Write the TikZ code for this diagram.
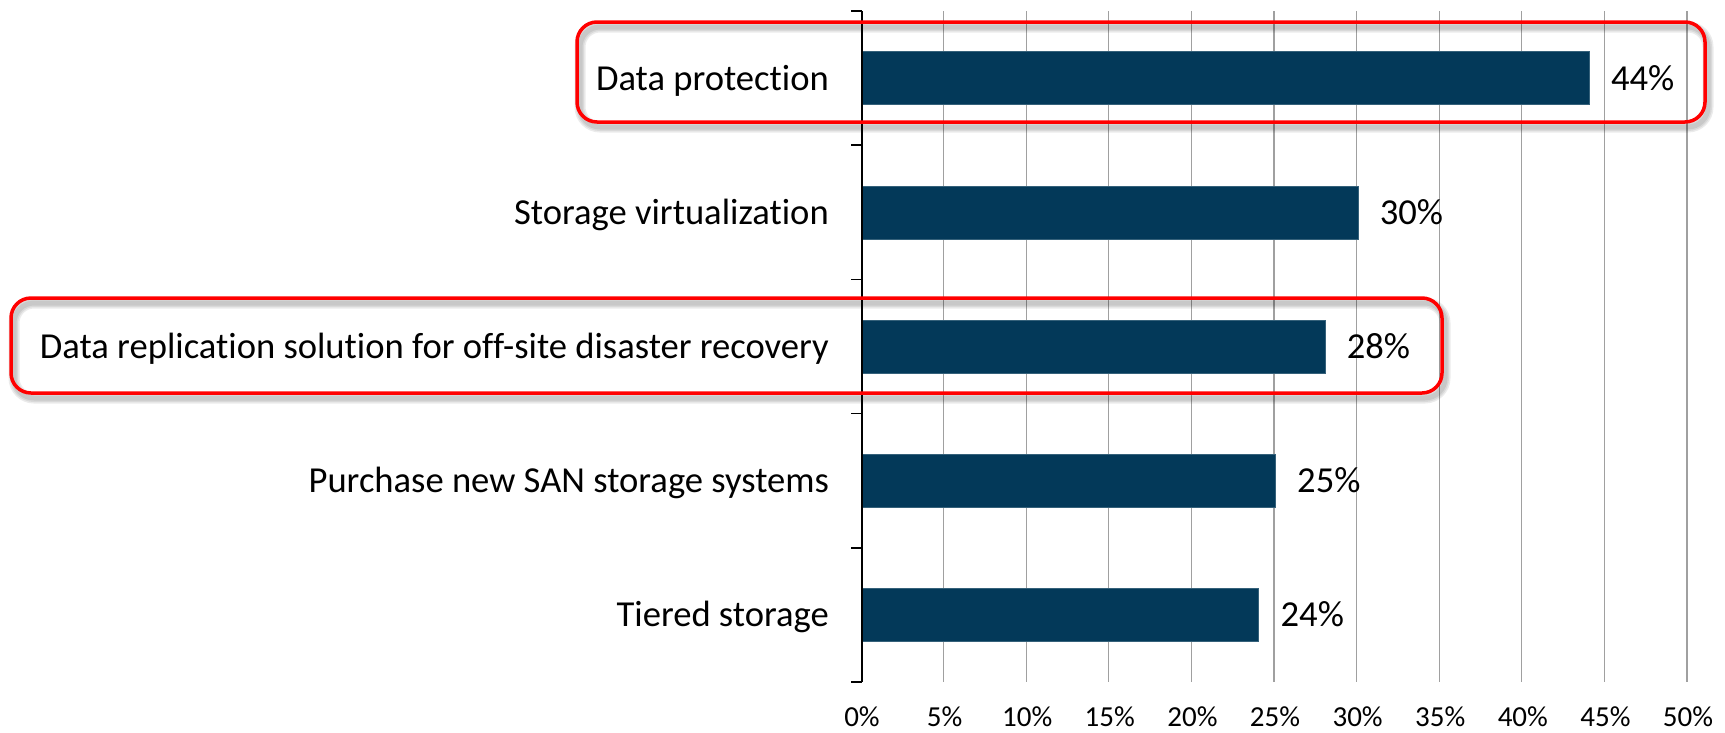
\documentclass[tikz,border=0pt]{standalone}
\usepackage{fontspec}
\setmainfont{Carlito}[Ligatures={NoCommon,NoContextual}]
\definecolor{barblue}{RGB}{3,57,89}
\definecolor{gridgray}{RGB}{160,160,160}
\definecolor{hlred}{RGB}{255,0,0}
\begin{document}
\begin{tikzpicture}[x=1pt,y=-1pt,
  gridline/.style={draw=gridgray,line width=1.3pt},
  axisline/.style={draw=black,line width=1.6pt},
  bar/.style={fill=barblue,draw=barblue!80!white,line width=0.6pt,rectangle,inner sep=0pt,minimum height=53pt,anchor=west},
  catlabel/.style={font=\fontsize{36.6}{40}\selectfont,inner sep=0pt,anchor=base east},
  vallabel/.style={font=\fontsize{36.6}{40}\selectfont,inner sep=0pt,anchor=base west},
  axlabel/.style={font=\fontsize{29}{32}\selectfont,inner sep=0pt,anchor=base},
  hlbox/.style={draw=hlred,line width=3.5pt,rounded corners=20pt},
  shadowstroke/.style={draw=black,opacity=0.08,rounded corners=20pt}
]
\useasboundingbox (0,0) rectangle (1725,732);
% grid
\foreach \k in {1,...,10} {
  \draw[gridline] ({861+82.6*\k},11) -- ({861+82.6*\k},682);
}
% axis labels
\foreach \k in {0,...,10} {
  \pgfmathtruncatemacro{\v}{5*\k}
  \node[axlabel] (ax\k) at ({862+82.6*\k},726) {\v\%};
}
% bars and labels
\foreach \i/\val/\txt in {1/44/Data protection,2/30/Storage virtualization,3/28/Data replication solution for off-site disaster recovery,4/25/Purchase new SAN storage systems,5/24/Tiered storage} {
  \pgfmathsetmacro{\cy}{11+134.2*(\i-0.5)}
  \node[bar,minimum width={\val*16.52pt}] (bar\i) at (862,\cy) {};
  \node[catlabel] (cat\i) at (829,{\cy+12}) {\txt};
  \node[vallabel] (val\i) at ({862+\val*16.52+22},{\cy+12}) {\val\%};
}
% axis
\coordinate (axtop) at (862,11);
\coordinate (axbot) at (862,682);
\draw[axisline] (axtop) -- (axbot);
\foreach \j in {0,...,5} {
  \draw[axisline] (851,{11+134.2*\j}) -- (862,{11+134.2*\j});
}
% highlight boxes with soft shadow
\foreach \w in {11,8,5} {
  \draw[shadowstroke,line width=\w pt,shift={(3,5)}] (577,22) rectangle (1705,122);
  \draw[shadowstroke,line width=\w pt,shift={(3,5)}] (11,298) rectangle (1442,393);
}
\draw[hlbox] (577,22) rectangle (1705,122);
\draw[hlbox] (11,298) rectangle (1442,393);
\end{tikzpicture}
\end{document}
